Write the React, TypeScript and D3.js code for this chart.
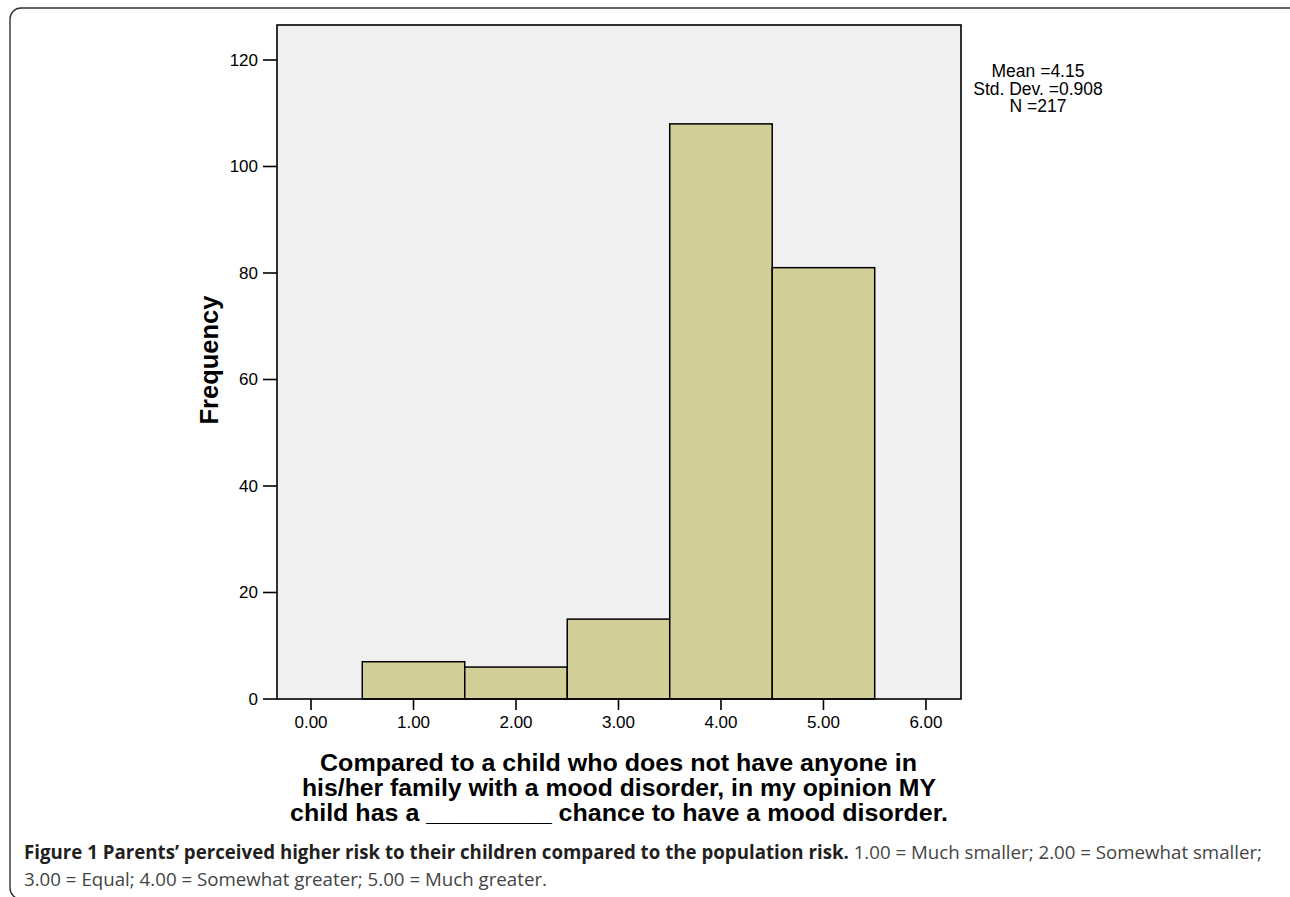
import React from "react";
import * as d3 from "d3";

const binCenters = [1, 2, 3, 4, 5];
const frequencies = [7, 6, 15, 108, 81];
const xTicks = [0, 1, 2, 3, 4, 5, 6];
const yTicks = [0, 20, 40, 60, 80, 100, 120];
const statsLines = ["Mean =4.15", "Std. Dev. =0.908", "N =217"];
const xTitleLines = [
  "Compared to a child who does not have anyone in",
  "his/her family with a mood disorder, in my opinion MY",
  "child has a _________ chance to have a mood disorder.",
];
const captionBold = "Figure 1 Parents\u2019 perceived higher risk to their children compared to the population risk.";
const captionRest1 = " 1.00 = Much smaller; 2.00 = Somewhat smaller;";
const captionLine2 = "3.00 = Equal; 4.00 = Somewhat greater; 5.00 = Much greater.";

const W = 1290;
const H = 897;
const plot = { left: 277, right: 961, top: 25, bottom: 699 };

export default function App() {
  const x = d3.scaleLinear().domain([-0.332, 6.342]).range([plot.left, plot.right]);
  const y = d3.scaleLinear().domain([0, 126.57]).range([plot.bottom, plot.top]);
  const font = "'Liberation Sans', Arial, sans-serif";
  const capFont = "'Open Sans', 'Noto Sans', sans-serif";
  const xTitleWidths = [597, 634, 658];
  const xTitleX = [320, 302, 290];

  return (
    <div style={{ position: "absolute", left: 0, top: 0 }}>
      <svg width={W} height={H} style={{ display: "block", background: "#fff" }}>
        <rect x={10} y={8} width={1292} height={891} rx={11} ry={11} fill="none" stroke="#333" strokeWidth={1.4} />
        <rect
          x={plot.left}
          y={plot.top}
          width={plot.right - plot.left}
          height={plot.bottom - plot.top}
          fill="#f0f0f0"
        />
        {binCenters.map((c, i) => (
          <rect
            key={i}
            x={x(c - 0.5)}
            y={y(frequencies[i])}
            width={x(c + 0.5) - x(c - 0.5)}
            height={y(0) - y(frequencies[i])}
            fill="#d3cf99"
            stroke="#000"
            strokeWidth={1.5}
          />
        ))}
        <rect
          x={plot.left}
          y={plot.top}
          width={plot.right - plot.left}
          height={plot.bottom - plot.top}
          fill="none"
          stroke="#000"
          strokeWidth={1.6}
        />
        {yTicks.map((t) => (
          <g key={t}>
            <line x1={263} x2={plot.left} y1={y(t)} y2={y(t)} stroke="#000" strokeWidth={1.6} />
            <text x={258} y={y(t)} dy="0.35em" textAnchor="end" fontFamily={font} fontSize={17} fill="#000">
              {t}
            </text>
          </g>
        ))}
        {xTicks.map((t) => (
          <g key={t}>
            <line x1={x(t)} x2={x(t)} y1={plot.bottom} y2={plot.bottom + 11} stroke="#000" strokeWidth={1.6} />
            <text x={x(t)} y={728} textAnchor="middle" fontFamily={font} fontSize={17} fill="#000">
              {d3.format(".2f")(t)}
            </text>
          </g>
        ))}
        <text
          transform={`translate(218,360) rotate(-90)`}
          textAnchor="middle"
          fontFamily={font}
          fontWeight="bold"
          fontSize={25.5}
          fill="#000"
        >
          Frequency
        </text>
        {statsLines.map((s, i) => (
          <text key={i} x={1038} y={77 + i * 17.6} textAnchor="middle" fontFamily={font} fontSize={17.5} fill="#000">
            {s}
          </text>
        ))}
        {xTitleLines.map((s, i) => (
          <text
            key={i}
            x={xTitleX[i]}
            y={771 + i * 25}
            fontFamily={font}
            fontWeight="bold"
            fontSize={23}
            fill="#000"
            textLength={xTitleWidths[i]}
            lengthAdjust="spacingAndGlyphs"
          >
            {s}
          </text>
        ))}
        <text x={24} y={859} fontFamily={capFont} fontSize={19} fill="#444" textLength={1238} lengthAdjust="spacingAndGlyphs">
          <tspan fontWeight="bold" fill="#231f20">{captionBold}</tspan>
          <tspan>{captionRest1}</tspan>
        </text>
        <text x={24} y={886} fontFamily={capFont} fontSize={19} fill="#444" textLength={523} lengthAdjust="spacingAndGlyphs">
          {captionLine2}
        </text>
      </svg>
    </div>
  );
}
